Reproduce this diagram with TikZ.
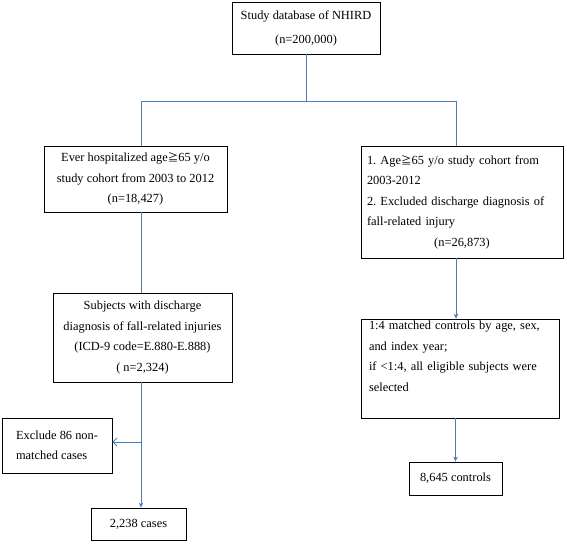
\documentclass[tikz,border=0pt]{standalone}
\usepackage{fontspec}
\setmainfont{Liberation Serif}
\newfontfamily\cjk{Noto Sans CJK SC}
\newcommand\mygeq{{\cjk\fontsize{10.5}{10.5}\selectfont ≧}}
\usetikzlibrary{arrows.meta,shadows}
\definecolor{conncol}{RGB}{74,126,187}
\frenchspacing
\tikzset{
  box/.style={draw=black, line width=0.8pt, fill=white, inner sep=0pt,
    font=\fontsize{12.4}{20.5}\selectfont\frenchspacing,
    drop shadow={shadow xshift=1.2pt, shadow yshift=-1.2pt, fill=black!45, opacity=0.6}},
  conn/.style={draw=conncol, line width=0.8pt},
  arr/.style={conn, -{Stealth[length=5pt,width=4.5pt]}},
  openarr/.style={conn, -{Straight Barb[length=4pt,width=8pt]}}
}
\begin{document}
\begin{tikzpicture}[x=1pt,y=-1pt]
\useasboundingbox (0,0) rectangle (567,543);
% boxes
\node[box, minimum width=148pt, minimum height=52pt, align=center] (top) at (306,28)
  {Study database of NHIRD\\[3.5pt](n=200,000)};
\node[box, minimum width=183pt, minimum height=66pt, align=center] (lb1) at (135.5,179)
  {Ever hospitalized age\mygeq65 y/o\\study cohort from 2003 to 2012\\(n=18,427)};
\node[box, minimum width=202pt, minimum height=112pt, text width=190pt, align=left] (rb1) at (462,202)
  {1. Age\mygeq65 y/o study cohort from\\2003-2012\\2. Excluded discharge diagnosis of\\fall-related injury\\\makebox[190pt]{(n=26,873)}};
\node[box, minimum width=179pt, minimum height=89pt, align=center] (lb2) at (142.5,337.5)
  {Subjects with discharge\\diagnosis of fall-related injuries\\(ICD-9 code=E.880-E.888)\\( n=2,324)};
\node[box, minimum width=198pt, minimum height=99pt, text width=182pt, align=left] (rb2) at (460,368.5)
  {1:4 matched controls by age, sex,\\and index year;\\if {<}1:4, all eligible subjects were\\selected\rule[-25pt]{0pt}{25pt}};
\node[box, minimum width=110pt, minimum height=55pt, align=left] (exc) at (57,445.5)
  {Exclude 86 non-\\matched cases};
\node[box, minimum width=95pt, minimum height=32pt] (cases) at (138.5,524) {2,238 cases};
\node[box, minimum width=93pt, minimum height=33pt] (ctrl) at (455.5,478.5) {8,645 controls};
% coordinates
\coordinate (j) at (306,101);
\coordinate (lx) at (141,101);
\coordinate (rx) at (456,101);
\coordinate (ex) at (141,442);
% connectors
\draw[conn] (top.south) -- (j);
\draw[conn] (lb1.north -| lx) -- (lx) -- (rx) -- (rb1.north -| rx);
\draw[conn] (lb1.south -| lx) -- (lb2.north -| lx);
\draw[arr] (lb2.south -| lx) -- (cases.north -| lx);
\draw[openarr] (ex) -- (exc.east |- ex);
\draw[arr] (rb1.south -| rx) -- (rb2.north -| rx);
\draw[arr] (rb2.south -| ctrl) -- (ctrl.north);
\end{tikzpicture}
\end{document}
